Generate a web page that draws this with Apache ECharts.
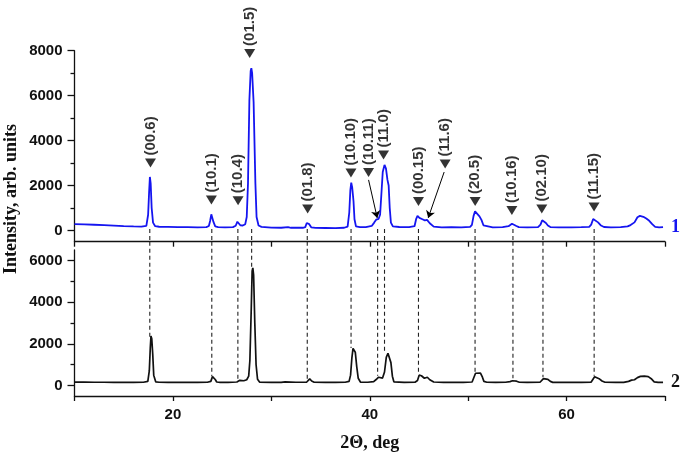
<!DOCTYPE html>
<html>
<head>
<meta charset="utf-8">
<script src="https://cdn.jsdelivr.net/npm/echarts/dist/echarts.min.js"></script>
<style>
  html, body { margin: 0; padding: 0; background: #fff; }
  #chart { width: 685px; height: 453px; }
</style>
</head>
<body>
<div id="chart"></div>
<script>
// sample 1 (blue) : [2theta, intensity]
const topCurve = [
  [10,285],[11,270],[12,255],[13,235],[14,215],[15,195],[16,180],[16.8,170],[17.3,200],[17.48,700],[17.58,1700],[17.66,2380],[17.74,2100],[17.84,1000],[17.98,350],[18.2,190],[18.6,165],
  [19.5,160],[20.5,150],[21.5,150],[22.5,140],[23.4,150],[23.65,200],[23.78,420],[23.9,720],[24.0,650],[24.12,380],[24.3,180],[24.6,150],
  [25.3,140],[26.1,150],[26.38,210],[26.55,390],[26.68,340],[26.85,230],[27.1,220],[27.35,280],[27.5,600],[27.63,2100],[27.77,5800],[27.9,7100],[27.97,7220],[28.05,7000],[28.2,5700],[28.38,2100],[28.5,600],[28.7,220],[29,160],
  [30,130],[31,120],[31.7,145],[32,120],[33.2,120],[33.45,150],[33.6,330],[33.7,390],[33.85,280],[34.05,140],[34.5,115],
  [35.5,110],[36.5,105],[37.4,120],[37.75,170],[37.92,800],[38.03,1800],[38.12,2130],[38.22,1900],[38.35,1300],[38.45,500],[38.6,180],[39,150],
  [39.6,150],[40.2,200],[40.45,350],[40.65,480],[40.9,520],[41.05,700],[41.18,1600],[41.32,2600],[41.5,2920],[41.65,2750],[41.8,2250],[41.92,2000],[42.03,1000],[42.15,350],[42.35,180],
  [43,155],[44,150],[44.55,190],[44.72,520],[44.85,650],[45.05,560],[45.35,500],[45.6,450],[45.82,470],[46.1,320],[46.5,170],
  [47.3,140],[48.3,145],[49.3,135],[50.2,160],[50.38,250],[50.55,650],[50.7,850],[50.85,790],[51.15,630],[51.35,470],[51.55,230],[51.75,160],
  [52.5,140],[53.5,145],[54.1,190],[54.3,260],[54.45,300],[54.65,285],[54.9,200],[55.15,150],
  [56,140],[57.1,150],[57.35,260],[57.52,450],[57.7,420],[57.9,330],[58.1,220],[58.35,150],
  [59.2,135],[60.5,140],[61.5,145],[62.3,160],[62.5,260],[62.7,510],[62.9,470],[63.2,360],[63.5,220],[63.8,155],
  [64.5,140],[65.5,150],[66.2,180],[66.5,240],[66.9,360],[67.2,590],[67.45,650],[67.8,610],[68.1,530],[68.4,430],[68.7,280],[69.0,160],[69.4,140],[69.8,150]
];

// sample 2 (black)
const bottomCurve = [
  [10,170],[11,165],[12,160],[13,160],[14,155],[15,160],[16,155],[17,160],[17.45,200],[17.6,700],[17.7,1800],[17.77,2380],[17.85,2250],[17.95,1500],[18.05,500],[18.25,180],[18.6,160],
  [19.5,150],[20.5,155],[21.5,150],[22.5,150],[23.5,160],[23.85,200],[24.02,430],[24.14,480],[24.3,290],[24.45,170],[24.8,155],
  [25.6,150],[26.5,170],[26.65,210],[26.8,250],[26.95,200],[27.2,230],[27.5,280],[27.7,450],[27.82,1200],[27.95,3500],[28.05,5500],[28.12,5640],[28.2,5300],[28.32,3000],[28.45,1000],[28.6,300],[28.8,170],
  [30,155],[31,150],[31.4,175],[31.6,155],[32.5,160],[33.6,170],[33.75,220],[33.9,320],[34.1,220],[34.35,160],
  [35.5,150],[36.5,150],[37.5,160],[37.9,200],[38.05,500],[38.18,1300],[38.3,1780],[38.4,1740],[38.53,1600],[38.68,900],[38.83,350],[39.05,170],
  [39.8,160],[40.4,190],[40.65,290],[40.9,400],[41.1,330],[41.3,360],[41.5,650],[41.68,1350],[41.85,1550],[42.0,1500],[42.15,1100],[42.3,450],[42.45,180],
  [43.5,150],[44.6,160],[44.85,240],[45.02,500],[45.25,470],[45.55,350],[45.85,400],[46.1,280],[46.5,170],
  [47.5,150],[48.5,155],[49.5,150],[50.4,170],[50.6,260],[50.75,590],[50.95,640],[51.25,600],[51.45,400],[51.6,200],[51.9,160],
  [52.8,150],[53.8,160],[54.25,190],[54.5,230],[54.7,240],[54.92,210],[55.2,160],
  [56,150],[57.3,160],[57.5,200],[57.65,330],[57.85,360],[58.1,300],[58.35,200],[58.6,155],
  [59.5,150],[60.5,150],[61.5,155],[62.5,170],[62.7,250],[62.85,420],[63.05,445],[63.3,330],[63.6,220],[63.9,160],
  [65,150],[65.8,155],[66.3,200],[66.6,260],[66.9,280],[67.2,380],[67.5,440],[67.9,450],[68.3,430],[68.6,330],[68.9,180],[69.3,150],[69.8,150]
];

// reflections
const hkl = ['(00.6)','(10.1)','(10.4)','(01.5)','(01.8)','(10.10)','(10.11)','(11.0)','(00.15)','(11.6)','(20.5)','(10.16)','(02.10)','(11.15)'];
const markerX = [17.72, 23.91, 26.62, 27.8, 33.69, 38.09, 39.88, 41.4, 44.95, 47.66, 50.71, 54.44, 57.48, 62.79];
const markerY = [3000, 1360, 1320, 7880, 950, 2560, 2580, 3360, 1290, 2960, 1290, 890, 950, 1040];

// arrows for (10.11) and (11.6)
const arrowFrom = [[39.88, 2250], [47.56, 2600]];
const arrowTo = [[40.76, 560], [45.94, 560]];

// dashed guide lines
const guideX = [17.65, 23.95, 26.6, 28.0, 33.65, 38.1, 40.8, 41.5, 44.95, 50.7, 54.55, 57.6, 62.8];
const guideEnd = [2250, 450, 300, 5640, 260, 1800, 470, 1520, 560, 640, 350, 400, 470];

const xTicks = [20, 40, 60];
const topTicks = [0, 2000, 4000, 6000, 8000];
const topMinor = [1000, 3000, 5000, 7000];
const bottomTicks = [0, 2000, 4000, 6000];
const bottomMinor = [1000, 3000, 5000];

const chart = echarts.init(document.getElementById('chart'));

const sans = 'Liberation Sans, Arial, sans-serif';
const serif = 'Liberation Serif, Times New Roman, serif';
const axisColor = '#111';

function xAx(grid, withLabels) {
  return {
    type: 'value', gridIndex: grid, min: 10, max: 70, interval: 10,
    axisLine: { onZero: false, lineStyle: { color: axisColor, width: 1.3 } },
    axisTick: { length: 5, lineStyle: { color: axisColor, width: 1.3 } },
    axisLabel: withLabels ? { customValues: xTicks, margin: 11, color: '#111', fontFamily: sans, fontWeight: 'bold', fontSize: 15, formatter: v => String(v) } : { show: false },
    splitLine: { show: false },
    name: withLabels ? '2\u0398, deg' : '',
    nameLocation: 'middle', nameGap: 38,
    nameTextStyle: { fontFamily: serif, fontWeight: 'bold', fontSize: 18, color: '#111' }
  };
}
function yAx(grid, min, max, ticks, major) {
  return {
    type: 'value', gridIndex: grid, min: min, max: max, position: 'left',
    axisLine: { show: major, onZero: false, lineStyle: { color: axisColor, width: 1.3 } },
    axisTick: { customValues: ticks, length: major ? 7 : 4, lineStyle: { color: axisColor, width: 1.3 } },
    axisLabel: major ? { customValues: ticks, margin: 12, color: '#111', fontFamily: sans, fontWeight: 'bold', fontSize: 15, formatter: v => String(v) } : { show: false },
    splitLine: { show: false }
  };
}

function guides(grid, rows) {
  return {
    type: 'custom', xAxisIndex: grid, yAxisIndex: grid * 2, clip: false, silent: true, z: 1,
    data: rows, encode: { x: 0, y: [1, 2] },
    renderItem: function (params, api) {
      const a = api.coord([api.value(0), api.value(1)]);
      const b = api.coord([api.value(0), api.value(2)]);
      return { type: 'line', shape: { x1: a[0], y1: a[1], x2: b[0], y2: b[1] },
        style: { stroke: '#222', lineWidth: 1.1, lineDash: [4, 3] } };
    }
  };
}

chart.setOption({
  animation: false,
  grid: [
    { left: 74.5, right: 20, top: 50.7, height: 191 },
    { left: 74.5, right: 20, top: 250, height: 147.7 }
  ],
  xAxis: [xAx(0, false), xAx(1, true)],
  yAxis: [
    yAx(0, -500, 8000, topTicks, true),
    yAx(0, -500, 8000, topMinor, false),
    yAx(1, -500, 6500, bottomTicks, true),
    yAx(1, -500, 6500, bottomMinor, false)
  ],
  graphic: [{
    type: 'text', x: 11, y: 199, rotation: Math.PI / 2,
    style: { text: 'Intensity, arb. units', align: 'center', verticalAlign: 'middle',
      font: 'bold 18px ' + serif, fill: '#111' }
  }],
  series: [
    guides(0, guideX.map(x => [x, 60, -500])),
    guides(1, guideX.map((x, i) => [x, 6900, guideEnd[i]])),
    {
      type: 'line', xAxisIndex: 0, yAxisIndex: 0, data: topCurve, showSymbol: false, z: 3,
      lineStyle: { color: '#1515f0', width: 1.8 }, itemStyle: { color: '#1515f0' },
      endLabel: { show: true, formatter: '1', distance: 8, color: '#1515f0', fontFamily: serif, fontWeight: 'bold', fontSize: 18 }
    },
    {
      type: 'line', xAxisIndex: 1, yAxisIndex: 2, data: bottomCurve, showSymbol: false, z: 3,
      lineStyle: { color: '#111', width: 1.7 }, itemStyle: { color: '#111' },
      endLabel: { show: true, formatter: '2', distance: 8, color: '#111', fontFamily: serif, fontWeight: 'bold', fontSize: 18 }
    },
    {
      type: 'scatter', xAxisIndex: 0, yAxisIndex: 0, z: 4, silent: true,
      symbol: 'triangle', symbolRotate: 180, symbolSize: [11, 9],
      itemStyle: { color: '#000' },
      data: hkl.map((n, i) => ({ name: n, value: [markerX[i], markerY[i]] })),
      label: {
        show: true, formatter: '{b}', position: 'top', distance: 3, rotate: 90,
        align: 'left', verticalAlign: 'middle',
        color: '#000', fontFamily: sans, fontWeight: 'bold', fontSize: 15
      },
      markLine: {
        silent: true, symbol: ['none', 'arrow'], symbolSize: 7,
        lineStyle: { color: '#000', width: 1, type: 'solid' }, label: { show: false },
        data: arrowFrom.map((p, i) => [{ coord: p }, { coord: arrowTo[i] }])
      }
    }
  ]
});
</script>
</body>
</html>
